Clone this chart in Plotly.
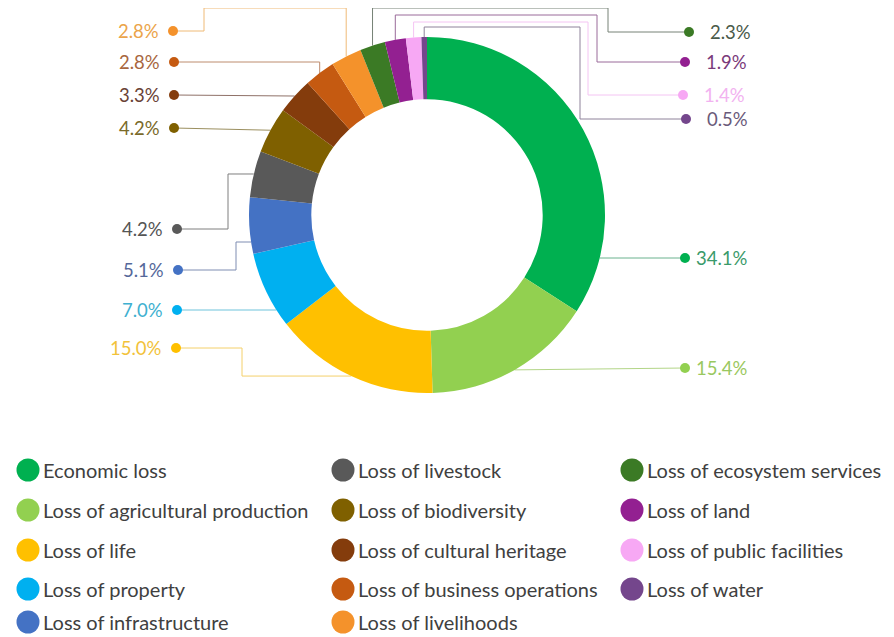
import math
import plotly.graph_objects as go

# ---------------- data ----------------
categories = [
    "Economic loss", "Loss of agricultural production", "Loss of life", "Loss of property",
    "Loss of infrastructure", "Loss of livestock", "Loss of biodiversity",
    "Loss of cultural heritage", "Loss of business operations", "Loss of livelihoods",
    "Loss of ecosystem services", "Loss of land", "Loss of public facilities", "Loss of water",
]
shares = [34.1, 15.4, 15.0, 7.0, 5.1, 4.2, 4.2, 3.3, 2.8, 2.8, 2.3, 1.9, 1.4, 0.5]

# ---------------- styles ----------------
slice_colors = ["#00B050", "#92D050", "#FFC000", "#00B0F0", "#4472C4", "#595959", "#7F6000",
                "#843C0C", "#C55A11", "#F4922B", "#3B7A25", "#932091", "#F7A8F4", "#74468C"]
label_colors = ["#3A9A6A", "#9AC860", "#F2C23A", "#3EB0D0", "#55689A", "#555555", "#7A6A2A",
                "#6A4236", "#A8663E", "#EBA44A", "#4A5A4A", "#7A3A7A", "#F2B2F0", "#6A5A7A"]

W, H = 894, 637          # browser window
OFF = 8                  # default page body margin
FW, FH = W - OFF, H - OFF
CX, CY, R = 427, 215, 178
HOLE = 0.65
FONT = "Lato"

# callout layout (window pixels): dot x, dot y, side, text gap, waypoints, forced anchor y
callouts = [
    (685, 258, "r", 9, [], 258),
    (685, 368, "r", 9, [], None),
    (176, 348, "l", 12, [(242, 348), (242, None)], None),
    (177, 310, "l", 12, [], 310),
    (178, 270, "l", 12, [(236, 270), (236, 242)], 242),
    (177, 229, "l", 12, [(228, 229), (228, None)], None),
    (174, 128, "l", 12, [], None),
    (174, 95, "l", 12, [], None),
    (174, 62, "l", 12, [(None, 62)], None),
    (173, 31, "l", 12, [(204, 31), (204, 8), (None, 8)], None),
    (689, 32, "r", 19, [(608, 32), (608, 8), (None, 8)], None),
    (685, 62, "r", 19, [(597, 62), (597, 15), (None, 15)], None),
    (683, 95, "r", 19, [(588, 95), (588, 22), (None, 22)], None),
    (686, 119, "r", 19, [(580, 119), (580, 27), (None, 27)], None),
]

LEGEND_COL_X = [28, 343, 632]
LEGEND_ROW_Y = [470, 510, 550, 589, 622]
LEGEND_ROWS = 5

fig = go.Figure()

# leader lines
total = sum(shares)
cum = 0.0
annotations = []
for i, v in enumerate(shares):
    mid = (cum + v / 2) / total * 2 * math.pi
    cum += v
    dx_, dy_, side, gap, wps, fy = callouts[i]
    if fy is None:
        ax = CX + R * math.sin(mid)
        ay = CY - R * math.cos(mid)
    else:
        sgn = 1 if math.sin(mid) >= 0 else -1
        ax = CX + sgn * math.sqrt(R * R - (fy - CY) ** 2)
        ay = fy
    xs = [dx_]
    ys = [dy_]
    for (wx, wy) in wps:
        xs.append(ax if wx is None else wx)
        ys.append(ay if wy is None else wy)
    xs.append(ax)
    ys.append(ay)
    fig.add_trace(go.Scatter(x=xs, y=ys, mode="lines",
                             line=dict(color=label_colors[i], width=1),
                             opacity=0.75, hoverinfo="skip", showlegend=False))
    annotations.append(dict(
        x=dx_ + gap if side == "r" else dx_ - gap, y=dy_, xref="x", yref="y",
        text=f"{v:.1f}%", showarrow=False,
        xanchor="left" if side == "r" else "right", yanchor="middle",
        font=dict(family=FONT, size=18.5, color=label_colors[i]),
    ))

# label dots
fig.add_trace(go.Scatter(
    x=[c[0] for c in callouts], y=[c[1] for c in callouts], mode="markers",
    marker=dict(size=10, color=slice_colors), hoverinfo="skip", showlegend=False))

# legend (3 columns x 5 rows)
lx = [LEGEND_COL_X[i // LEGEND_ROWS] for i in range(len(categories))]
ly = [LEGEND_ROW_Y[i % LEGEND_ROWS] for i in range(len(categories))]
fig.add_trace(go.Scatter(
    x=lx, y=ly, mode="markers",
    marker=dict(size=23, color=slice_colors), hoverinfo="skip", showlegend=False))
for i, name in enumerate(categories):
    annotations.append(dict(
        x=lx[i] + 13, y=ly[i], xref="x", yref="y", text=name, showarrow=False,
        xanchor="left", yanchor="middle",
        font=dict(family=FONT, size=20, color="#404040"),
    ))

# donut
fig.add_trace(go.Pie(
    labels=categories, values=shares, hole=HOLE, sort=False, direction="clockwise",
    rotation=0, marker=dict(colors=slice_colors, line=dict(width=0)),
    textinfo="none", showlegend=False,
    domain=dict(x=[(CX - R - OFF) / FW, (CX + R - OFF) / FW],
                y=[(H - CY - R) / FH, (H - CY + R) / FH]),
))

fig.update_layout(
    width=FW, height=FH, margin=dict(l=0, r=0, t=0, b=0),
    paper_bgcolor="white", plot_bgcolor="white",
    xaxis=dict(range=[OFF, W], visible=False, fixedrange=True, domain=[0, 1]),
    yaxis=dict(range=[H, OFF], visible=False, fixedrange=True, domain=[0, 1]),
    annotations=annotations, showlegend=False,
)

fig.write_html("out.html")
